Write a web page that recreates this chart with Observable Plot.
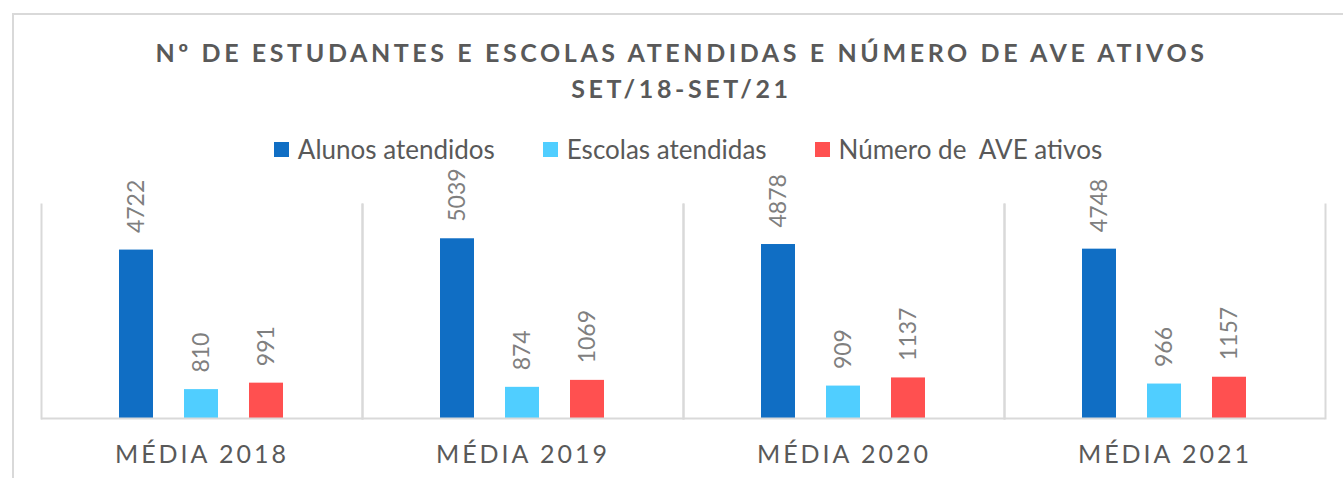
<!DOCTYPE html>
<html>
<head>
<meta charset="utf-8">
<script src="https://cdn.jsdelivr.net/npm/d3@7"></script>
<script src="https://cdn.jsdelivr.net/npm/@observablehq/plot@0.6"></script>
<style>
  html, body { margin: 0; padding: 0; background: #fff; }
  body { width: 1343px; height: 478px; overflow: hidden; position: relative; font-family: Lato, "Open Sans", sans-serif; }
  #frame { position: absolute; left: 12px; top: 13px; width: 1400px; height: 500px; border: 2px solid #d9d9d9; box-sizing: border-box; }
  #title { position: absolute; left: 0; top: 34px; width: 1363px; text-align: center; color: #595959; font-weight: 700; font-size: 25px; letter-spacing: 3.6px; line-height: 36px; }
  #legend { position: absolute; left: 0; top: 134px; width: 1376px; display: flex; justify-content: center; color: #595959; font-size: 26px; line-height: 30px; }
  #legend .item { display: flex; align-items: center; margin: 0 24px; white-space: pre; }
  #legend .sw { width: 15px; height: 15px; margin-right: 9px; }
  #chart { position: absolute; left: 0; top: 160px; }
  #chart svg { overflow: visible; background: transparent; }
  #chart g[aria-label^="fx-axis"] text { font-size: 25px; letter-spacing: 3px; fill: #595959; font-family: Lato, sans-serif; }
</style>
</head>
<body>
<div id="frame"></div>
<div id="title"></div>
<div id="legend"></div>
<div id="chart"></div>
<script>
const titleLines = ["Nº DE ESTUDANTES E ESCOLAS ATENDIDAS E NÚMERO DE AVE ATIVOS", "SET/18-SET/21"];
const years = ["MÉDIA 2018", "MÉDIA 2019", "MÉDIA 2020", "MÉDIA 2021"];
const series = ["Alunos atendidos", "Escolas atendidas", "Número de  AVE ativos"];
const alunos = [4722, 5039, 4878, 4748];
const escolas = [810, 874, 909, 966];
const ave = [991, 1069, 1137, 1157];
const colors = ["#106EC4", "#50CEFF", "#FF5050"];

const seriesValues = [alunos, escolas, ave];
const data = years.flatMap((y, i) => series.map((s, j) => ({year: y, series: s, value: seriesValues[j][i]})));

document.getElementById("title").innerHTML = titleLines.map(t => `<div>${t}</div>`).join("");
document.getElementById("legend").innerHTML = series.map((s, j) =>
  `<div class="item"><div class="sw" style="background:${colors[j]}"></div><span>${s}</span></div>`).join("");

const chart = Plot.plot({
  width: 1343,
  height: 318,
  marginLeft: 41,
  marginRight: 18,
  marginTop: 44,
  marginBottom: 60,
  style: {background: "transparent", fontFamily: "Lato, sans-serif", overflow: "visible"},
  facet: {data, x: "year"},
  fx: {domain: years, padding: 0, label: null, tickSize: 0, tickPadding: 27},
  x: {domain: series, axis: null, paddingInner: 0.47, paddingOuter: 1.167},
  y: {domain: [0, 6000], axis: null},
  color: {domain: series, range: colors},
  marks: [
    Plot.frame({anchor: "left", stroke: "#d9d9d9", strokeWidth: 2}),
    Plot.frame({anchor: "right", stroke: "#d9d9d9", strokeWidth: 2}),
    Plot.barY(data, {x: "series", y: "value", fill: "series"}),
    Plot.ruleY([0], {stroke: "#d9d9d9", strokeWidth: 2}),
    Plot.text(data, {x: "series", y: "value", text: d => String(d.value), rotate: -90, textAnchor: "start", lineAnchor: "middle", dy: -17, fontSize: 23, fill: "#7f7f7f"})
  ]
});
document.getElementById("chart").appendChild(chart);
</script>
</body>
</html>
